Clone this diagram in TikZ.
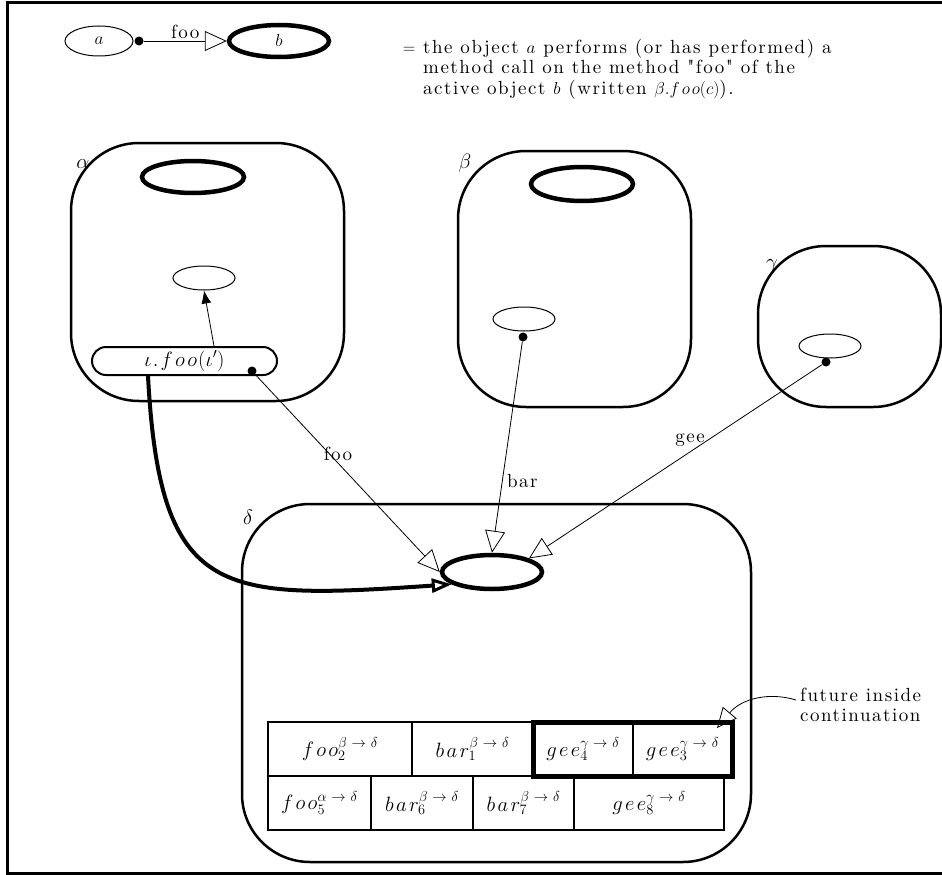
\documentclass[tikz,border=0pt]{standalone}
\usepackage{fontspec}
\usetikzlibrary{arrows.meta,shapes.geometric}
\newfontfamily\lmten{lmroman10-regular.otf}[LetterSpace=8, Ligatures=TeXOff]
\begin{document}
\begin{tikzpicture}[x=1pt,y=-1pt,
  every node/.style={font=\fontsize{17.28}{20}\selectfont},
  lbl/.style={font=\lmten\fontsize{19}{20.5}\selectfont},
  tbl/.style={font=\fontsize{20.74}{24}\selectfont},
  greek/.style={anchor=base, font=\fontsize{20.74}{24}\selectfont},
  frameline/.style={line width=3pt},
  agent/.style={draw, line width=2.5pt, rounded corners=68pt, inner sep=0pt},
  active/.style={draw, ellipse, line width=4.5pt, inner sep=0pt},
  passive/.style={draw, ellipse, line width=1pt, inner sep=0pt},
  dot/.style={circle, fill, inner sep=0pt, minimum size=9pt},
  call/.style={line width=0.8pt, -{Triangle[open, length=22pt, width=20pt, line width=0.8pt]}},
  future/.style={line width=4pt, -{Triangle[open, length=20pt, width=14pt, line width=3pt]}},
  cell/.style={draw, line width=1.2pt, inner sep=0pt, outer sep=0pt, minimum height=54pt, tbl},
]
\useasboundingbox (0,0) rectangle (942,875);
\draw[frameline] (946,2.5) -- (7.5,2.5) -- (7.5,873) -- (946,873);

% legend
\node[passive, minimum width=68pt, minimum height=30pt] (a) at (99,41) {$a$};
\node[active, minimum width=100pt, minimum height=32pt] (b) at (279,41) {$b$};
\node[dot] (ad) at (139,41) {};
\draw[call] (ad) -- (b) node[midway, above=-1pt, lbl] {foo};
\node[lbl, anchor=west, align=left, inner sep=0pt] (legend) at (423,69)
  {\llap{$=$\ }the object $a$ performs (or has performed) a\\
   method call on the method "foo" of the\\
   active object $b$ (written $\beta.f\mkern2mu o\mkern2mu o(c)$).};

% agent alpha
\node[agent, minimum width=273pt, minimum height=258pt] (A) at (207.5,272) {};
\node[greek] (alab) at (83,168) {$\alpha$};
\node[active, minimum width=102pt, minimum height=32pt] (aact) at (193,177) {};
\node[passive, minimum width=62pt, minimum height=24pt] (apas) at (204,278) {};
\node[draw, line width=2pt, rounded corners=14pt, minimum width=185pt, minimum height=28pt, inner sep=0pt, font=\fontsize{20.74}{24}\selectfont] (pill) at (184.5,361)
  {$\iota\mkern1mu.\mkern2mu f\mkern2mu o\mkern2mu o\mkern1mu(\iota')$};
\draw[line width=0.8pt, -{Latex[length=13pt,width=10pt]}] ([xshift=29.5pt]pill.north) -- (apas.south);
\node[dot] (pd) at (252,371) {};

% agent beta
\node[agent, minimum width=233pt, minimum height=256pt] (B) at (574.5,279) {};
\node[greek] (blab) at (465,168) {$\beta$};
\node[active, minimum width=102pt, minimum height=34pt] (bact) at (582,184) {};
\node[passive, minimum width=62pt, minimum height=24pt] (bpas) at (524,319) {};
\node[dot] (bd) at (523,337) {};

% agent gamma
\node[agent, minimum width=183pt, minimum height=161pt] (G) at (849.5,326.5) {};
\node[greek] (glab) at (772,268) {$\gamma$};
\node[passive, minimum width=62pt, minimum height=24pt] (gpas) at (830,346) {};
\node[dot] (gd) at (826,362) {};

% agent delta
\node[agent, minimum width=509pt, minimum height=358pt] (D) at (496.5,683) {};
\node[greek] (dlab) at (248,524) {$\delta$};
\node[active, minimum width=100pt, minimum height=34pt] (dact) at (492,572) {};

% calls
\draw[call] (pd) -- (dact.west) node[pos=0.4, xshift=9pt, lbl] {foo};
\draw[call] (bd) -- (dact.north) node[pos=0.66, right=1pt, lbl] {bar};
\draw[call] (gd) -- (dact.north east) node[pos=0.45, above=2pt, lbl] {gee};
\draw[future] (pill.south west -| 148,0) .. controls (160,600) and (220,600) .. (dact.197);

% request queue
\node[cell, minimum width=144pt] (r1c1) at (340,749) {$f\mkern2mu o\mkern2mu o_2^{\beta\mkern6mu\to\mkern6mu\delta}$};
\node[cell, minimum width=121pt] (r1c2) at (472.5,749) {$b\mkern2mu a\mkern2mu r_1^{\beta\mkern6mu\to\mkern6mu\delta}$};
\node[cell, minimum width=100pt] (r1c3) at (583,749) {$g\mkern2mu e\mkern2mu e_4^{\gamma\mkern6mu\to\mkern6mu\delta}$};
\node[cell, minimum width=99pt] (r1c4) at (682.5,749) {$g\mkern2mu e\mkern2mu e_3^{\gamma\mkern6mu\to\mkern6mu\delta}$};
\node[cell, minimum width=103pt] (r2c1) at (319.5,803) {$f\mkern2mu o\mkern2mu o_5^{\alpha\mkern6mu\to\mkern6mu\delta}$};
\node[cell, minimum width=102pt] (r2c2) at (422,803) {$b\mkern2mu a\mkern2mu r_6^{\beta\mkern6mu\to\mkern6mu\delta}$};
\node[cell, minimum width=101pt] (r2c3) at (523.5,803) {$b\mkern2mu a\mkern2mu r_7^{\beta\mkern6mu\to\mkern6mu\delta}$};
\node[cell, minimum width=150pt] (r2c4) at (649,803) {$g\mkern2mu e\mkern2mu e_8^{\gamma\mkern6mu\to\mkern6mu\delta}$};
\draw[line width=2.5pt] (r1c1.north west) rectangle (r1c4.south east);
\draw[line width=2.5pt] (r2c1.north west) rectangle (r2c4.south east);
\draw[line width=5pt] (r1c3.north west) rectangle (r1c4.south east);

% future annotation
\node[lbl, anchor=west, align=left, inner sep=0pt] (fut) at (800,705) {future inside\\continuation};
\coordinate (ftip) at (717,728);
\draw[line width=0.8pt, -{Triangle[open, length=20pt, width=18pt, line width=0.8pt]}]
  ([xshift=-4pt,yshift=5pt]fut.west) .. controls (770,692) and (742,698) .. (ftip);
\end{tikzpicture}
\end{document}
